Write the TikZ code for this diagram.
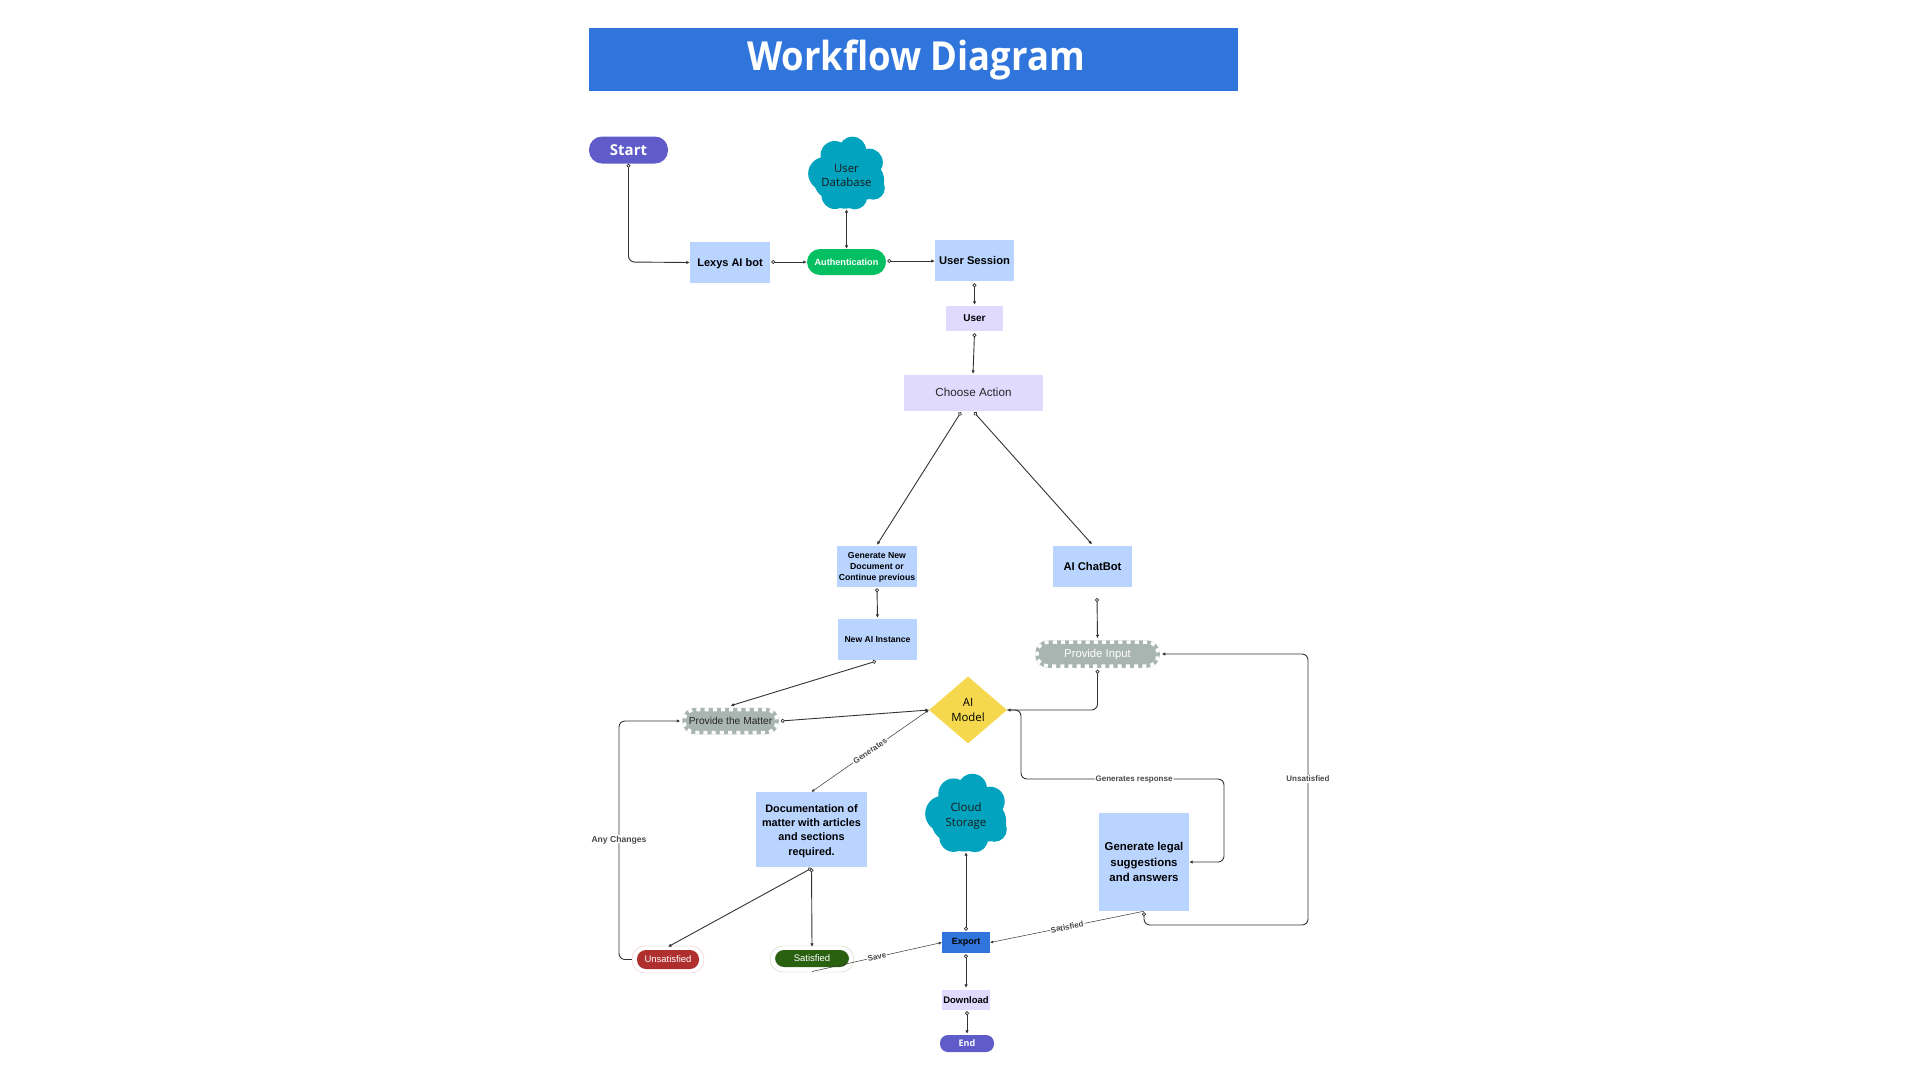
\documentclass[tikz,border=0pt]{standalone}
\usepackage{fontspec}
\setmainfont{Liberation Sans}
\newfontfamily\opensans{Open Sans}
\newfontfamily\titlefont[FakeStretch=0.91]{Open Sans}
\usetikzlibrary{arrows.meta,shapes.geometric}
\definecolor{cTitle}{HTML}{3075DB}
\definecolor{cBlue}{HTML}{B8D4FF}
\definecolor{cLav}{HTML}{E0DAFF}
\definecolor{cPurple}{HTML}{5F5BC8}
\definecolor{cGreen}{HTML}{05BF63}
\definecolor{cTeal}{HTML}{02A3BE}
\definecolor{cYellow}{HTML}{F5D84D}
\definecolor{cRed}{HTML}{AF2E2E}
\definecolor{cDGreen}{HTML}{2A6110}
\definecolor{cGrey}{HTML}{A9B5B0}
\definecolor{cLine}{HTML}{333333}
\definecolor{cLabel}{HTML}{4A4A4A}
\newcommand{\fs}[1]{\fontsize{#1}{#1}\selectfont}
\newcommand{\puffshape}[4]{% cx, cy, scale x, scale y
  \begin{scope}[shift={(#1,#2)},xscale=#3,yscale=#4]
    \fill[cTeal] (-65,2) circle[radius=50] (-35,-53) circle[radius=43]
      (18,-68) circle[radius=41] (68,-32) circle[radius=41]
      (80,45) circle[radius=35] (25,72) circle[radius=37]
      (-35,68) circle[radius=40] (0,0) circle[radius=72]
      (55,22) circle[radius=58] (-38,22) circle[radius=60]
      (-8,-30) circle[radius=60] (-5,45) circle[radius=62];
  \end{scope}}
\tikzset{
  x=1pt,y=-1pt,
  box/.style={rectangle,inner sep=0pt,align=center,text=black,anchor=center},
  bluebox/.style={box,fill=cBlue,font=\bfseries},
  lavbox/.style={box,fill=cLav},
  pill/.style={rectangle,rounded corners=9pt,inner sep=0pt,text=white,align=center},
  toothed/.style={rectangle,rounded corners=11pt,inner sep=0pt,fill=cGrey,
    preaction={draw=cGrey,solid,line width=3.5pt},
    draw=white,line width=3.5pt,dash pattern=on 4pt off 4.2pt},
  cloudtext/.style={rectangle,inner sep=0pt,align=center,text=black!90,font=\opensans\fs{11.4}},
  halo/.style={rectangle,rounded corners=13pt,inner sep=0pt,fill=none,line width=0.35pt},
  conn/.style={draw=cLine,line width=0.9pt,rounded corners=6pt,{Circle[open,fill=white,length=4pt,width=4pt,line width=0.7pt]}-{Latex[length=3.5pt,width=3.5pt]}},
  thin conn/.style={conn,line width=0.5pt},
  double conn/.style={draw=cLine,line width=0.9pt,{Latex[length=3.5pt,width=3.5pt]}-{Latex[length=3.5pt,width=3.5pt]}},
  plain end/.style={draw=cLine,line width=0.9pt,rounded corners=6pt,-{Latex[length=3.5pt,width=3.5pt]}},
  edgelabel/.style={fill=white,inner sep=1pt,text depth=0pt,text=cLabel,font=\fs{8}\bfseries},
}
\begin{document}
\begin{tikzpicture}
\useasboundingbox (0,0) rectangle (1920,1080);
\fill[white] (0,0) rectangle (1920,1080);

\node[rectangle,fill=cTitle,minimum width=649pt,minimum height=63pt,inner sep=0pt] (title) at (913.5,59.5) {};
\node[text=white,inner sep=0pt,anchor=base,font=\titlefont\bfseries\fs{40}] (titletext) at (916,70) {Workflow Diagram};

\node[pill,fill=cPurple,minimum width=79pt,minimum height=27pt,rounded corners=13pt,font=\opensans\bfseries\fs{15}] (start) at (628.5,150) {Start};
\puffshape{846.5}{173}{0.3333}{0.3333}
\node[cloudtext,minimum width=77pt,minimum height=72pt] (userdb) at (846.5,173) {};
\node[cloudtext] (userdbtext) at (846.5,175.5) {User\\[3pt]Database};
\node[bluebox,minimum width=80pt,minimum height=41pt,text depth=0pt,font=\bfseries\fs{11}] (lexys) at (730,262.5) {Lexys AI bot};
\node[pill,fill=cGreen,minimum width=79pt,minimum height=26pt,rounded corners=13pt,font=\bfseries\fs{9.1}] (auth) at (846.5,262) {Authentication};
\node[bluebox,minimum width=79pt,minimum height=41pt,font=\bfseries\fs{11.2}] (session) at (974.5,260.5) {User Session};
\node[lavbox,minimum width=57pt,minimum height=25pt,font=\bfseries\fs{10}] (user) at (974.5,318.5) {User};
\node[lavbox,minimum width=139pt,minimum height=36pt,text=black!85,font=\fs{11.7}] (choose) at (973.5,393) {\raisebox{1pt}{Choose Action}};

\node[bluebox,minimum width=80pt,minimum height=41pt] (gen) at (877,566.5) {};
\node[box,font=\bfseries\fs{8.7}] (gentext) at (877,567.5) {Generate New\\[2.4pt]Document or\\[2.4pt]Continue previous};
\node[bluebox,minimum width=79pt,minimum height=41pt,font=\bfseries\fs{8.6}] (newai) at (877.5,639.5) {\raisebox{-2pt}{New AI Instance}};
\node[bluebox,minimum width=79pt,minimum height=41pt,font=\bfseries\fs{11.2}] (chatbot) at (1092.5,566) {AI ChatBot};

\node[toothed,minimum width=93pt,minimum height=23pt] (matter) at (730.5,721) {};
\node[text=black!85,inner sep=0pt,font=\fs{10.2}] (mattertext) at (730.5,721) {Provide the Matter};
\node[toothed,minimum width=121pt,minimum height=24pt] (input) at (1097.5,654) {};
\node[text=white,inner sep=0pt,font=\fs{11.3}] (inputtext) at (1097.5,655) {Provide Input};

\node[diamond,fill=cYellow,minimum width=78pt,minimum height=67pt,inner sep=0pt,align=center,font=\opensans\fs{11.4},aspect=1.16] (model) at (968,710) {AI\\[3pt]Model};

\node[bluebox,minimum width=111pt,minimum height=75pt] (doc) at (811.5,829.5) {};
\node[box,font=\bfseries\fs{10.85}] (doctext) at (811.5,830.8) {Documentation of\\[3.5pt]matter with articles\\[3.5pt]and sections\\[3.5pt]required.};
\puffshape{966}{813}{0.355}{0.36}
\node[cloudtext,minimum width=82pt,minimum height=78pt] (cloudst) at (966,813) {};
\node[cloudtext] (cloudsttext) at (966,816) {Cloud\\[3pt]Storage};
\node[bluebox,minimum width=90pt,minimum height=98pt,font=\bfseries\fs{11.4}] (legal) at (1144,862) {Generate legal\\[4pt]suggestions\\[4pt]and answers};

\node[halo,draw=cRed!30,minimum width=72pt,minimum height=27pt] (unsatring) at (668,959.5) {};
\node[pill,fill=cRed,minimum width=62pt,minimum height=19pt,font=\fs{9.5}] (unsat) at (668,959.5) {Unsatisfied};
\node[halo,draw=cDGreen!30,minimum width=84pt,minimum height=26pt] (satring) at (812,959) {};
\node[pill,fill=cDGreen,minimum width=74pt,minimum height=17pt,font=\fs{9.5}] (sat) at (812,958.5) {Satisfied};

\node[rectangle,fill=cTitle,minimum width=48pt,minimum height=21pt,inner sep=0pt,font=\bfseries\fs{9}] (export) at (966,942.5) {\raisebox{-2pt}{Export}};
\node[lavbox,minimum width=48pt,minimum height=20pt,font=\bfseries\fs{9.5}] (download) at (966,1000) {Download};
\node[pill,fill=cPurple,minimum width=54pt,minimum height=17pt,rounded corners=8pt,font=\opensans\bfseries\fs{9}] (endnode) at (967,1043.5) {End};

% connectors
\draw[conn] (start.south) -- (628.5,262) -- (lexys.west);
\draw[conn] ([xshift=1pt,yshift=0.5pt]lexys.east) -- (auth.west);
\draw[conn] ([xshift=1pt,yshift=1pt]auth.east) -- ([yshift=-0.5pt]session.west);
\draw[double conn] (auth.north) -- (userdb.south);
\draw[conn] ([yshift=-2pt]session.south) -- ([yshift=1pt]user.north);
\draw[conn] ([yshift=-2pt]user.south) -- ([xshift=-0.5pt,yshift=1pt]choose.north);
\draw[conn] ([xshift=-12.5pt,yshift=-1pt]choose.south) -- ([yshift=1pt]gen.north);
\draw[conn] ([xshift=0.5pt,yshift=-1pt]choose.south) -- ([xshift=-0.5pt,yshift=1pt]chatbot.north);
\draw[conn] ([yshift=-1pt]gen.south) -- ([yshift=1pt]newai.north);
\draw[conn] ([xshift=-1.5pt,yshift=-1pt]newai.south) -- ([yshift=2pt]matter.north);
\draw[conn] ([xshift=2pt]matter.east) -- (model.west);
\draw[thin conn,{Latex[length=3pt,width=3pt]}-{Latex[length=3pt,width=3pt]}] (model.west) -- node[edgelabel,sloped] (lblgen) {Generates} (doc.north);
\coordinate (chatfree) at (1097,598);
\draw[conn] (chatfree) -- ([yshift=2pt]input.north);
\draw[conn] ([yshift=-2pt]input.south) -- (1097.5,710) -- (model.east);
\draw[plain end] (model.east) -- (1021,710) -- (1021,779) -- node[edgelabel,pos=.557] (lblresp) {Generates response} (1224,779) -- (1224,862) -- (legal.east);
\draw[conn] ([yshift=-1pt]legal.south) -- (1144,925) -- (1308,925) -- node[edgelabel,pos=.539] (lblun) {Unsatisfied} (1308,654) -- ([xshift=2pt]input.east);
\draw[thin conn,-{Latex[length=3pt,width=3pt]}] (legal.south) -- node[edgelabel,sloped] (lblsat) {Satisfied} (export.east);
\coordinate (savefree) at (812,971.5);
\draw[thin conn,-{Latex[length=3pt,width=3pt]}] (savefree) -- node[edgelabel,sloped] (lblsave) {Save} (export.west);
\draw[conn] ([yshift=-1pt]doc.south) -- ([yshift=-1pt]unsatring.north);
\draw[conn] ([yshift=-1pt]doc.south) -- ([yshift=-1pt]satring.north);
\draw[plain end] (unsatring.west) -- (619,959.5) -- node[edgelabel,pos=.505,font=\fs{8.6}\bfseries] (lblany) {Any Changes} (619,721) -- ([xshift=-2pt]matter.west);
\draw[conn] ([yshift=1pt]export.north) -- (cloudst.south);
\draw[conn] ([yshift=-1pt]export.south) -- ([yshift=2pt]download.north);
\draw[conn] ([xshift=1pt,yshift=-1pt]download.south) -- ([yshift=1pt]endnode.north);
\end{tikzpicture}
\end{document}
